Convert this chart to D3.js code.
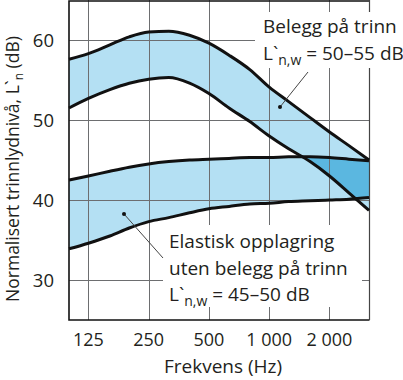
<!DOCTYPE html>
<html lang="en">
<head>
<meta charset="utf-8">
<script src="https://d3js.org/d3.v7.min.js"></script>
<style>
    body { margin: 0; background: #fff; }
    svg text { font-family: "Open Sans", sans-serif; fill: #231f20; }
</style>
</head>
<body>
<svg></svg>
<script>
    // 1/3-octave bands, values (dB)
    const freqs = [100, 125, 160, 200, 250, 315, 400, 500, 630, 800, 1000, 1250, 1600, 2000, 2500, 3150]
    const beleggUpper = [57.6, 58.3, 59.4, 60.4, 61.0, 61.1, 60.6, 59.6, 58.1, 56.3, 54.1, 52.3, 50.3, 48.5, 46.8, 45.0]
    const beleggLower = [51.5, 52.7, 53.8, 54.6, 55.1, 55.3, 54.6, 53.3, 51.5, 49.8, 48.0, 46.4, 44.8, 43.0, 40.9, 38.7]
    const elastUpper  = [42.5, 43.0, 43.6, 44.1, 44.5, 44.8, 45.0, 45.1, 45.2, 45.3, 45.3, 45.4, 45.4, 45.3, 45.1, 44.9]
    const elastLower  = [33.9, 34.6, 35.5, 36.5, 37.3, 37.8, 38.4, 38.9, 39.2, 39.5, 39.6, 39.8, 39.9, 40.0, 40.1, 40.3]

    const xTicks = [125, 250, 500, 1000, 2000]
    const xTickLabels = ['125', '250', '500', '1 000', '2 000']
    const yTicks = [30, 40, 50, 60]

    const W = 403, H = 380
    const pLeft = 69, pRight = 369, pTop = 0, pBottom = 320

    const svg = d3.select('svg')
        .attr('width', W)
        .attr('height', H)

    const x = d3.scaleLog().domain([100, 3150]).range([pLeft, pRight])
    const y = d3.scaleLinear().domain([25, 65]).range([pBottom, pTop])

    const band = (lo, hi) => d3.area()
        .curve(d3.curveMonotoneX)
        .x((d, i) => x(freqs[i]))
        .y0((d, i) => y(lo[i]))
        .y1((d, i) => y(hi[i]))(freqs)
    const line = vals => d3.line()
        .curve(d3.curveMonotoneX)
        .x((d, i) => x(freqs[i]))
        .y((d, i) => y(vals[i]))(freqs)

    svg.append('clipPath').attr('id', 'clipBelegg')
        .append('path').attr('d', band(beleggLower, beleggUpper))

    // fills
    svg.append('path').attr('d', band(beleggLower, beleggUpper)).attr('fill', '#b4e0f3')
    svg.append('path').attr('d', band(elastLower, elastUpper)).attr('fill', '#b4e0f3')
    svg.append('path').attr('d', band(elastLower, elastUpper))
        .attr('fill', '#5bb7e0')
        .attr('clip-path', 'url(#clipBelegg)')

    // grid
    const grid = svg.append('g').attr('stroke', '#6d6e70').attr('stroke-width', 1)
    grid.selectAll('.vx').data(xTicks).enter().append('line')
        .attr('x1', d => Math.round(x(d)) + 0.5).attr('x2', d => Math.round(x(d)) + 0.5)
        .attr('y1', pTop).attr('y2', pBottom)
    grid.selectAll('.hy').data(yTicks).enter().append('line')
        .attr('y1', d => y(d) + 0.5).attr('y2', d => y(d) + 0.5)
        .attr('x1', pLeft).attr('x2', pRight)

    // frame
    svg.append('path')
        .attr('d', `M${pRight + 0.5},${pTop + 1}H${pLeft}V${pBottom}H${pRight + 0.5}`)
        .attr('fill', 'none').attr('stroke', '#111').attr('stroke-width', 1.6)
    svg.append('line')
        .attr('x1', pRight + 0.5).attr('x2', pRight + 0.5).attr('y1', pTop).attr('y2', pBottom)
        .attr('stroke', '#444').attr('stroke-width', 1.2)

    // curves
    const curves = svg.append('g').attr('fill', 'none').attr('stroke', '#111')
        .attr('stroke-width', 3).attr('stroke-linejoin', 'round')
    ;[beleggUpper, beleggLower, elastUpper, elastLower].forEach(v => {
        curves.append('path').attr('d', line(v))
    })

    // label backgrounds
    svg.append('rect').attr('x', 255).attr('y', 12).attr('width', 148).attr('height', 56).attr('fill', '#fff')
    svg.append('rect').attr('x', 163).attr('y', 225).attr('width', 199).attr('height', 82).attr('fill', '#fff')

    // pointers
    const ptr = svg.append('g')
    ptr.append('line').attr('x1', 280).attr('y1', 107).attr('x2', 308).attr('y2', 72)
        .attr('stroke', '#444').attr('stroke-width', 1)
    ptr.append('circle').attr('cx', 280).attr('cy', 107).attr('r', 2).attr('fill', '#111')
    ptr.append('line').attr('x1', 124).attr('y1', 214).attr('x2', 163).attr('y2', 258)
        .attr('stroke', '#444').attr('stroke-width', 1)
    ptr.append('circle').attr('cx', 124).attr('cy', 214).attr('r', 2).attr('fill', '#111')

    // tick labels
    svg.selectAll('.xt').data(xTicks).enter().append('text')
        .attr('x', d => x(d)).attr('y', 346)
        .attr('text-anchor', 'middle').attr('font-size', 18)
        .text((d, i) => xTickLabels[i])
    svg.selectAll('.yt').data(yTicks).enter().append('text')
        .attr('x', 54).attr('y', d => y(d) + 6.5)
        .attr('text-anchor', 'end').attr('font-size', 18.5)
        .text(d => d)

    // axis titles
    svg.append('text').attr('x', 223).attr('y', 373)
        .attr('text-anchor', 'middle').attr('font-size', 19)
        .text('Frekvens (Hz)')
    const yt = svg.append('text')
        .attr('transform', 'translate(19,169) rotate(-90)')
        .attr('text-anchor', 'middle').attr('font-size', 17.5)
    yt.append('tspan').text('Normalisert trinnlydnivå, L`')
    yt.append('tspan').attr('font-size', 12).attr('dy', 4).text('n')
    yt.append('tspan').attr('dy', -4).text(' (dB)')

    // annotations
    function label(x0, y0, lines) {
        lines.forEach((l, i) => {
            const t = svg.append('text').attr('x', x0).attr('y', y0 + i * 26.5).attr('font-size', 19)
            if (typeof l === 'object') {
                t.append('tspan').text('L`')
                t.append('tspan').attr('font-size', 14).attr('dy', 5).text('n,w')
                t.append('tspan').attr('dy', -5).text(l.rest)
            } else {
                t.text(l)
            }
        })
    }
    label(263, 33, ['Belegg på trinn', { rest: ' = 50–55 dB' }])
    label(169, 248, ['Elastisk opplagring', 'uten belegg på trinn', { rest: ' = 45–50 dB' }])
</script>
</body>
</html>
